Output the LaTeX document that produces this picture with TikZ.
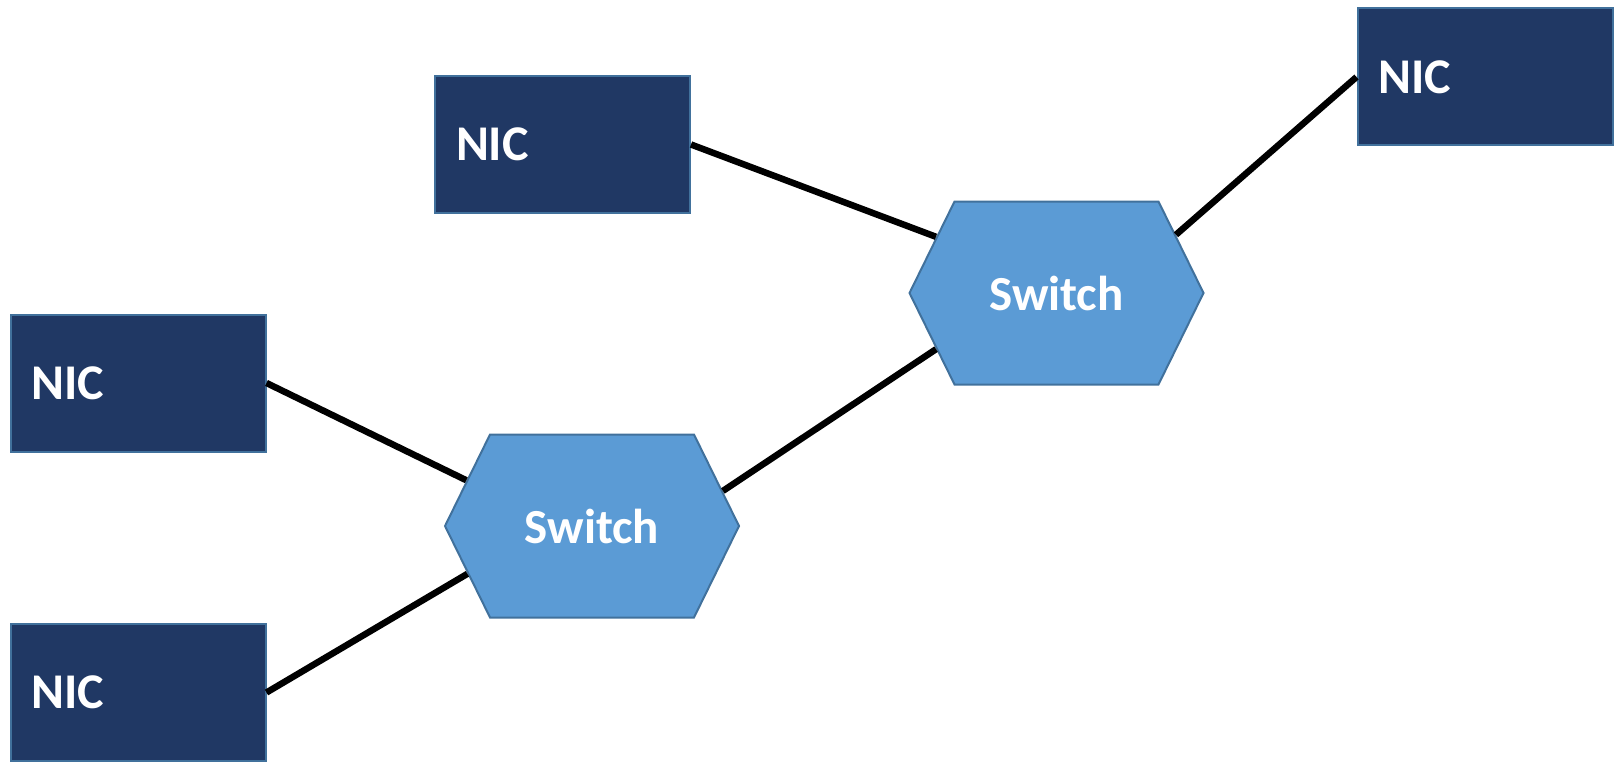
\documentclass[tikz,border=0pt]{standalone}
\usepackage{fontspec}
\setmainfont{Carlito}[BoldFont={Carlito Bold}]
\usepackage{tikz}
\usetikzlibrary{shapes.symbols}

\definecolor{nicblue}{RGB}{32,56,100}
\definecolor{swblue}{RGB}{91,155,213}
\definecolor{edgeblue}{RGB}{65,113,156}

\tikzset{
	nic/.style={draw=edgeblue, line width=2pt, fill=nicblue, text=white,
		minimum height=137pt, text width=213pt, inner xsep=21pt, align=left,
		font=\fontsize{50}{60}\selectfont\bfseries},
	switch/.style={signal, signal to=west and east, signal pointer angle=127.6,
		draw=edgeblue, line width=2pt, fill=swblue, text=white,
		minimum width=294pt, minimum height=183pt,
		font=\fontsize{49}{59}\selectfont\bfseries},
	wire/.style={line width=6.5pt}
}

\begin{document}
\begin{tikzpicture}[x=1pt, y=-1pt]
	\useasboundingbox (0,0) rectangle (1614,765);

	% network cards
	\foreach \name/\x/\y in {nicA/562.5/144.5, nicB/1485/77, nicC/138/383, nicD/138/692.5}
	{
	\node [nic] (\name) at (\x, \y) {NIC};
	}

	% switches
	\node [switch] (swlow) at (592, 526) {Switch};
	\node [switch] (swhigh) at (1056.5, 293) {Switch};

	% cabling
	\draw [wire] (nicA.east) -- (swhigh.155);
	\draw [wire] (swhigh.26) -- (nicB.west);
	\draw [wire] (nicC.east) -- (swlow.160.5);
	\draw [wire] (nicD.east) -- (swlow.201);
	\draw [wire] (swlow.15) -- (swhigh.205);

\end{tikzpicture}
\end{document}
